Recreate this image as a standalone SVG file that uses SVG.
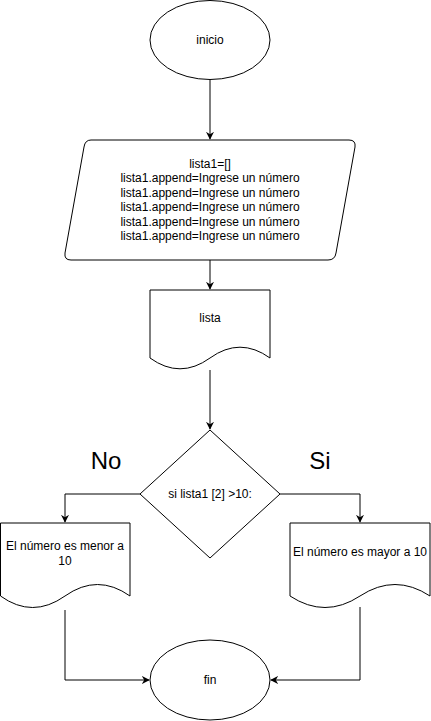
<svg xmlns="http://www.w3.org/2000/svg" width="431" height="721" viewBox="0 0 431 721">
<style>
.s{fill:#fff;stroke:#000;stroke-width:1}
.c{fill:none;stroke:#000;stroke-width:1}
text{font-family:"Liberation Sans",Arial,sans-serif;font-size:12px;fill:#000;text-anchor:middle}
.big{font-size:24px}
</style>
<defs>
<marker id="a" viewBox="0 0 10 10" refX="9" refY="5" markerWidth="8" markerHeight="8" markerUnits="userSpaceOnUse" orient="auto">
<path d="M0,0 L10,5 L0,10 L3,5 Z" fill="#000"/>
</marker>
</defs>
<rect width="431" height="721" fill="#fff"/>
<g id="connectors">
<path class="c" d="M210,80 V139" marker-end="url(#a)"/>
<path class="c" d="M210,260 V289" marker-end="url(#a)"/>
<path class="c" d="M210,370 V429" marker-end="url(#a)"/>
<path class="c" d="M140,494 H65 V522" marker-end="url(#a)"/>
<path class="c" d="M280,494 H360 V522" marker-end="url(#a)"/>
<path class="c" d="M65,610 V680 H149" marker-end="url(#a)"/>
<path class="c" d="M360,607 V680 H271" marker-end="url(#a)"/>
</g>
<g id="inicio">
<ellipse class="s" cx="210" cy="40" rx="60" ry="39.5"/>
<text x="210" y="44">inicio</text>
</g>
<g id="entrada">
<path class="s" d="M91,140 H349 Q356,140 355,147 L336,253 Q335,260 328,260 H71 Q64,260 65,253 L84,147 Q85,140 91,140 Z"/>
<text x="210" y="168">lista1=[]</text>
<text x="210" y="182.4">lista1.append=Ingrese un número</text>
<text x="210" y="196.8">lista1.append=Ingrese un número</text>
<text x="210" y="211.2">lista1.append=Ingrese un número</text>
<text x="210" y="225.6">lista1.append=Ingrese un número</text>
<text x="210" y="240">lista1.append=Ingrese un número</text>
</g>
<g id="lista">
<path class="s" d="M150,290 H270 V358 Q240,336.4 210,358 Q180,379.6 150,358 Z"/>
<text x="210" y="322">lista</text>
</g>
<g id="decision">
<path class="s" d="M210,430 L280,494 L210,558 L140,494 Z"/>
<text x="210" y="498">si lista1 [2] &gt;10:</text>
</g>
<text class="big" x="106" y="469">No</text>
<text class="big" x="320" y="469">Si</text>
<g id="menor">
<path class="s" d="M0.5,523 H130 V596 Q97.5,573 65,596 Q32.5,619 0.5,596 Z"/>
<text x="65" y="550">El número es menor a</text>
<text x="65" y="565">10</text>
</g>
<g id="mayor">
<path class="s" d="M290,523 H430 V596 Q395,573 360,596 Q325,619 290,596 Z"/>
<text x="360" y="556">El número es mayor a 10</text>
</g>
<g id="fin">
<ellipse class="s" cx="210" cy="680" rx="60" ry="40"/>
<text x="210" y="684">fin</text>
</g>
</svg>
